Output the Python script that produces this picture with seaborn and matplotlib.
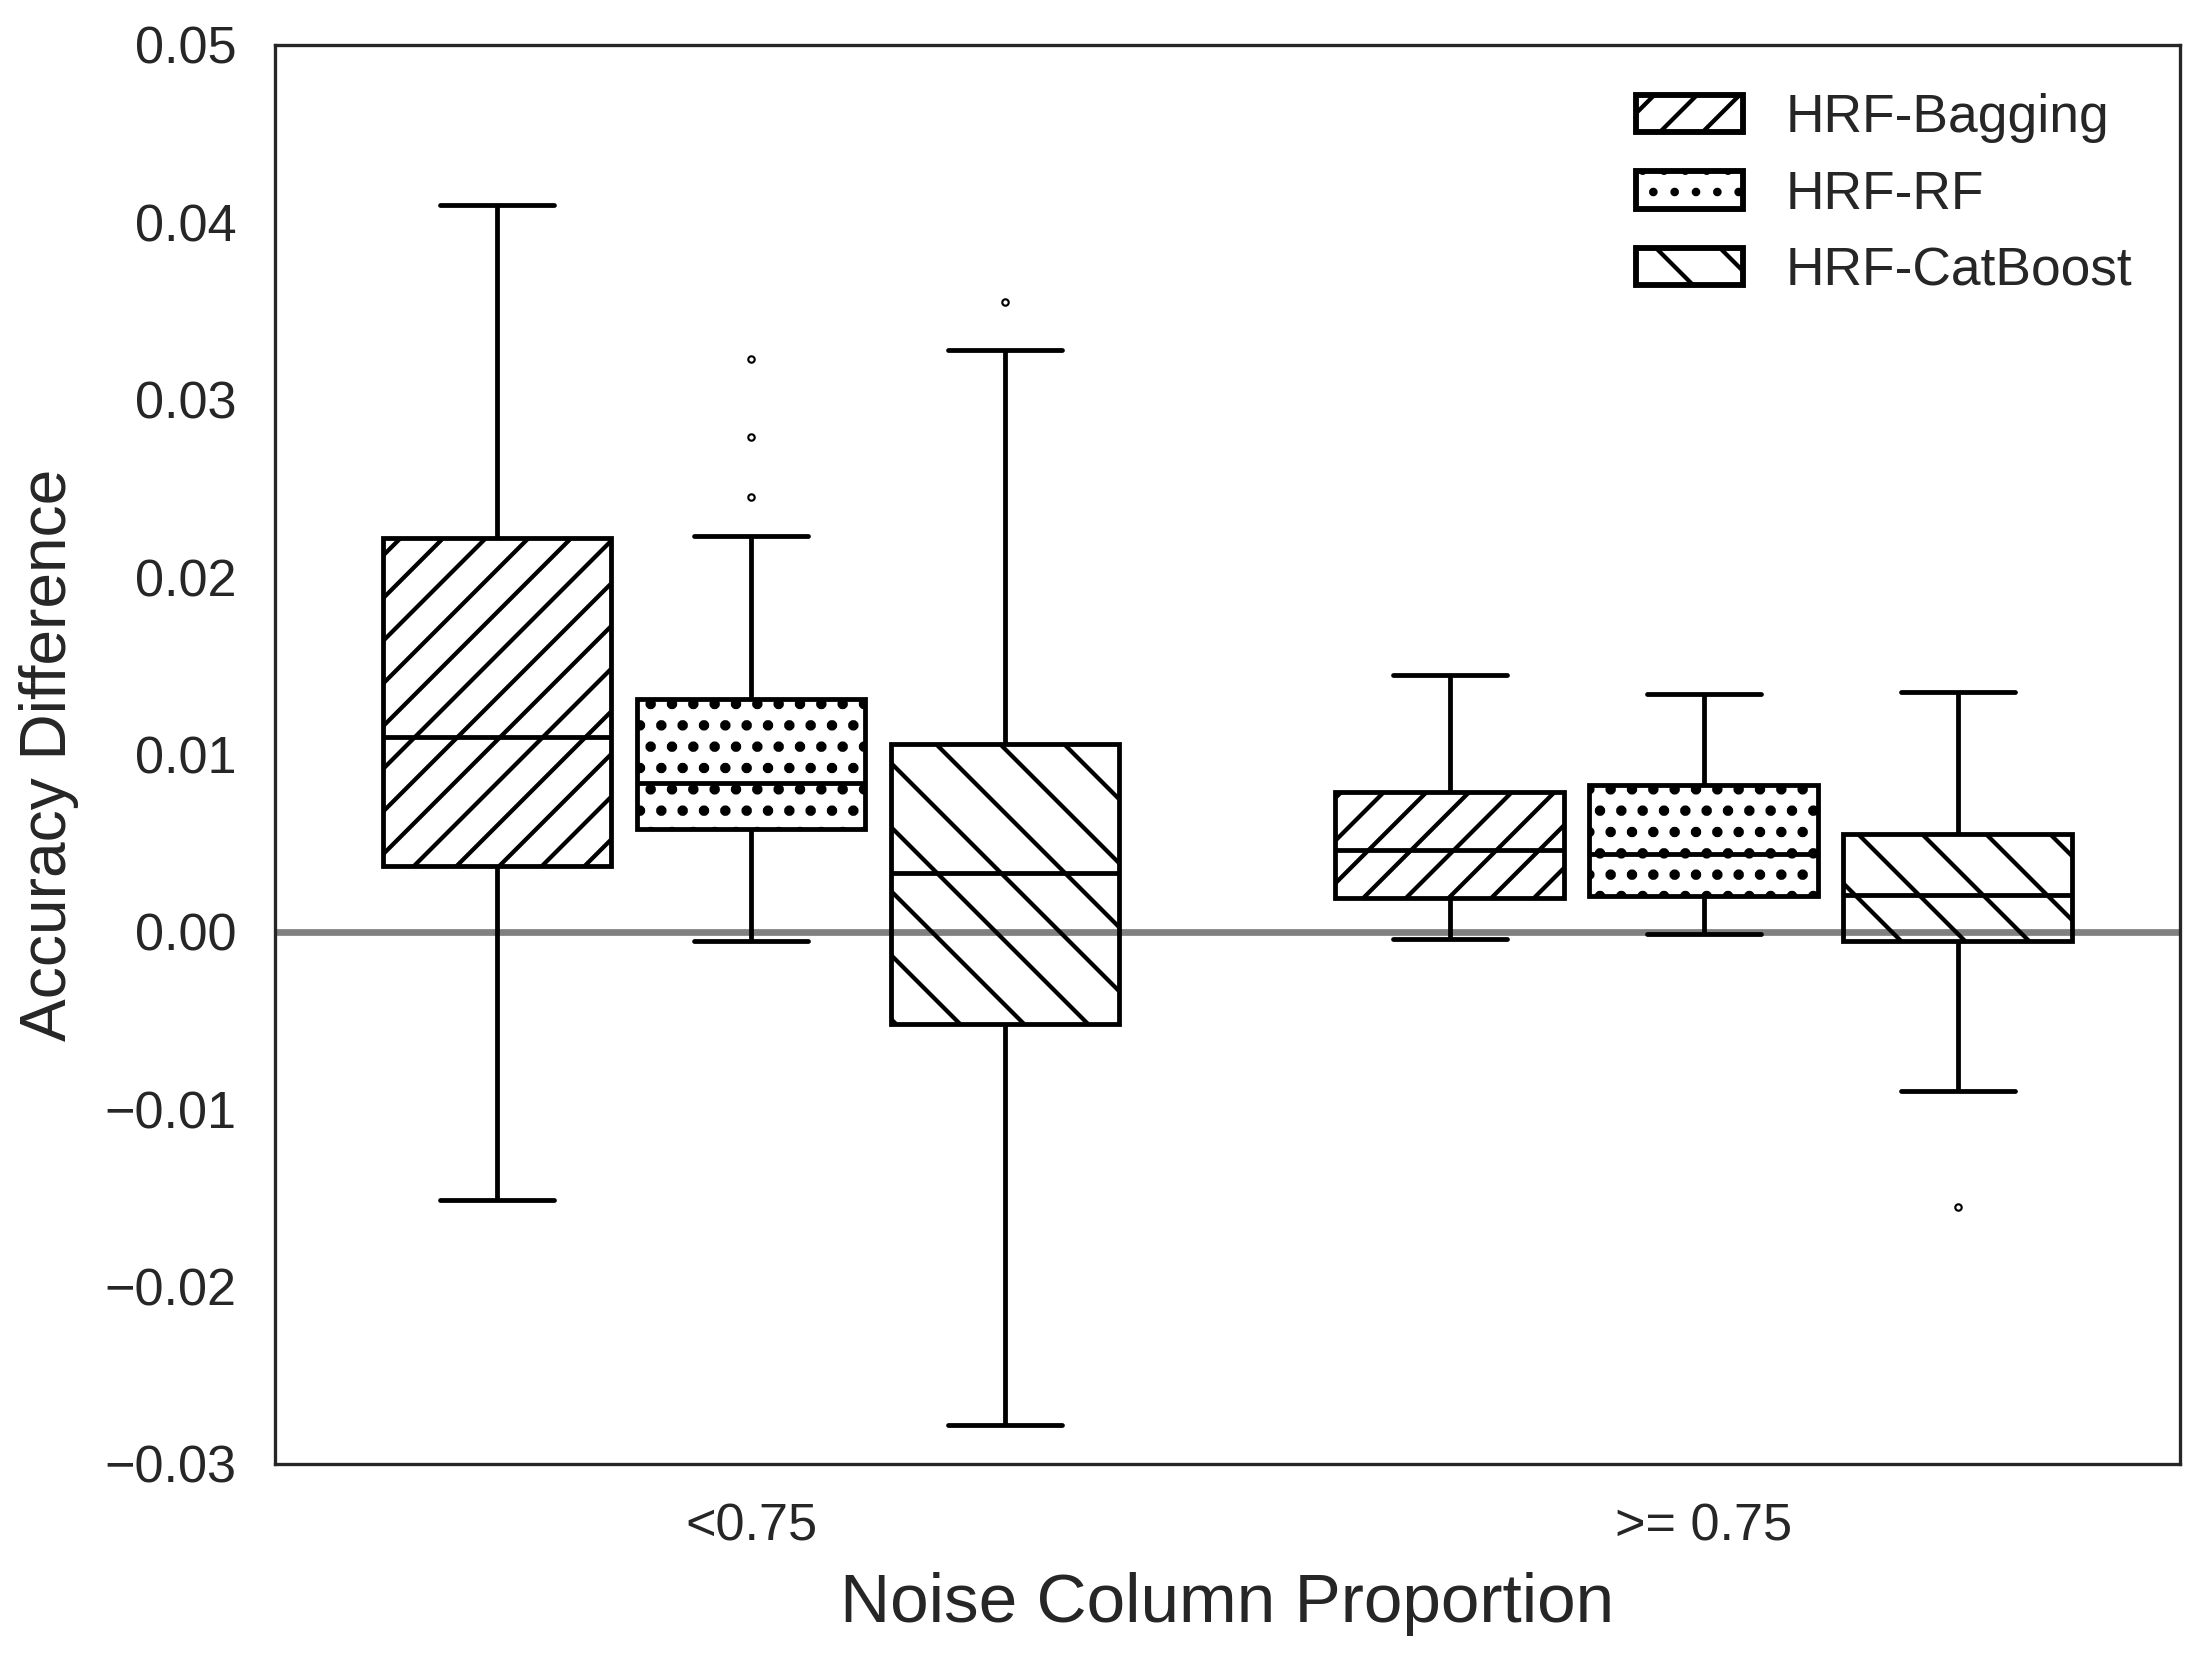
import numpy as np
import pandas as pd
import matplotlib
matplotlib.use("Agg")
import matplotlib.pyplot as plt
from matplotlib.patches import Patch
import seaborn as sns

# ---- data ----
groups = ["<0.75", ">= 0.75"]
models = ["HRF-Bagging", "HRF-RF", "HRF-CatBoost"]
hatches = ["///", "...", "\\\\"]
hatch_widths = [0.8, 1.15, 0.8]

# samples per box (quartiles fall on samples; extra samples sit inside box/whisker range)
bagging_low = [-0.0151, 0.0037, 0.0110, 0.0222, 0.0410]
rf_low = [-0.0005, 0.0010, 0.0030, 0.0045, 0.0058, 0.0065, 0.0072, 0.0078, 0.0084,
          0.0095, 0.0108, 0.0120, 0.0131, 0.0223, 0.0245, 0.0279, 0.0323]
catboost_low = [-0.0278, -0.0150, -0.0052, -0.0010, 0.0033, 0.0070, 0.0106, 0.0328, 0.0355]
bagging_high = [-0.0004, 0.0019, 0.0046, 0.0079, 0.0145]
rf_high = [-0.0001, 0.0020, 0.0044, 0.0083, 0.0134]
catboost_high = [-0.0155, -0.0090, -0.0005, 0.0008, 0.0021, 0.0038, 0.0055, 0.0095, 0.0135]

ytick_values = [-0.03, -0.02, -0.01, 0.00, 0.01, 0.02, 0.03, 0.04, 0.05]

series = {
    ("<0.75", "HRF-Bagging"): bagging_low,
    ("<0.75", "HRF-RF"): rf_low,
    ("<0.75", "HRF-CatBoost"): catboost_low,
    (">= 0.75", "HRF-Bagging"): bagging_high,
    (">= 0.75", "HRF-RF"): rf_high,
    (">= 0.75", "HRF-CatBoost"): catboost_high,
}
rows = []
for (g, m), vals in series.items():
    for v in vals:
        rows.append({"group": g, "model": m, "value": v})
df = pd.DataFrame(rows)

# ---- style ----
sns.set_style("white")
plt.rcParams["font.family"] = ["Liberation Sans", "DejaVu Sans"]
plt.rcParams["hatch.linewidth"] = 0.8
plt.rcParams["hatch.color"] = "black"
plt.rcParams["axes.unicode_minus"] = True

DPI = 384
fig = plt.figure(figsize=(2208 / DPI, 1654 / DPI), dpi=DPI)
ax = fig.add_axes([0.1245, 0.1149, 0.9873 - 0.1245, 0.9728 - 0.1149])

ax.axhline(0, color="#808080", lw=1.26, zorder=1.5)

sns.boxplot(
    data=df, x="group", y="value", hue="model",
    order=groups, hue_order=models,
    palette=["white"] * 3, saturation=1,
    linecolor="black", linewidth=0.9,
    width=0.8, gap=0.1, whis=1.5,
    fliersize=1.2,
    flierprops=dict(marker="o", markersize=1.2, markeredgewidth=0.4,
                    markerfacecolor="none", markeredgecolor="black"),
    legend=False, ax=ax,
)


def style_hatch(patch, h, hw):
    patch.set_hatch(h)
    if hasattr(patch, "set_hatch_linewidth"):
        patch.set_hatch_linewidth(hw)


for cont, h, hw in zip(ax.containers, hatches, hatch_widths):
    for b in cont.boxes:
        b.set_facecolor("none")
        b.set_edgecolor("black")
        style_hatch(b, h, hw)

ax.set_ylim(-0.03, 0.05)
ax.set_xlim(-0.5, 1.5)
ax.set_yticks(ytick_values)
ax.set_yticklabels([f"{v:.2f}".replace("-", "\u2212") for v in ytick_values])
ax.tick_params(axis="both", length=0, pad=7.2, labelsize=9.8, colors="#262626")

ax.set_xlabel("Noise Column Proportion", fontsize=13, labelpad=3.9, color="#262626")
ax.set_ylabel("Accuracy Difference", fontsize=12, labelpad=4.7, color="#262626")

for s in ax.spines.values():
    s.set_linewidth(0.62)
    s.set_color("#262626")

handles = []
for m, h, hw in zip(models, hatches, hatch_widths):
    p = Patch(facecolor="white", edgecolor="black", lw=1.1, label=m)
    style_hatch(p, h, hw)
    handles.append(p)
ax.legend(handles=handles, loc="upper right", frameon=False, fontsize=10)

fig.savefig("out.png", dpi=DPI)
